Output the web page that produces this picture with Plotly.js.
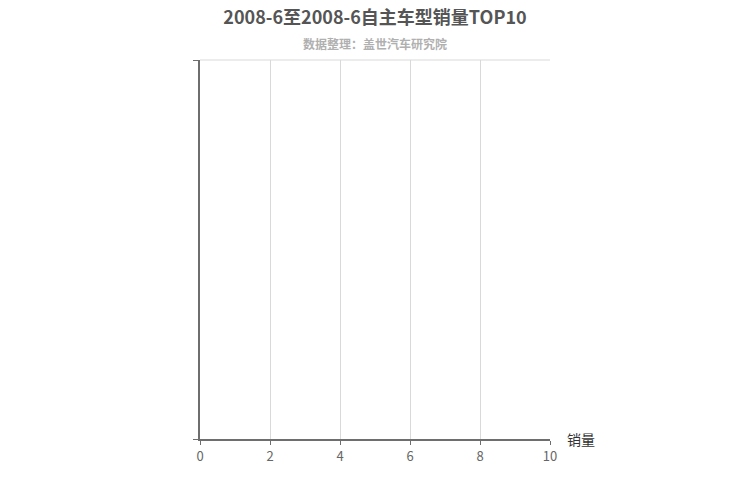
<!DOCTYPE html>
<html>
<head>
<meta charset="utf-8">
<script src="https://cdn.plot.ly/plotly-3.0.1.min.js"></script>
<style>
  body { margin: 0; background: #fff; }
  #chart { width: 750px; height: 500px; }
</style>
</head>
<body>
<div id="chart"></div>
<script>
// no records for this period, so the chart stays empty
let models = [];
let sales = [];
let xTicks = [0, 2, 4, 6, 8, 10];

let font = '"Noto Sans CJK SC", "Microsoft YaHei", sans-serif';

Plotly.newPlot('chart', [{
    type: 'bar',
    orientation: 'h',
    y: models,
    x: sales,
    marker: {color: '#5470c6'}
}], {
    width: 750,
    height: 500,
    margin: {l: 200, r: 200, t: 60, b: 61},
    paper_bgcolor: '#fff',
    plot_bgcolor: '#fff',
    font: {family: font, color: '#666'},
    showlegend: false,
    title: {
        text: '<b>2008-6至2008-6自主车型销量TOP10</b>',
        font: {size: 18, color: '#555', family: font},
        x: 0.5, xanchor: 'center',
        y: 0.965, yanchor: 'middle'
    },
    xaxis: {
        range: [0, 10],
        tickvals: xTicks,
        ticktext: xTicks.map(String),
        showgrid: true,
        gridcolor: '#d9d9d9',
        gridwidth: 1,
        zeroline: false,
        showline: true,
        linecolor: '#6e6e6e',
        linewidth: 2,
        ticks: 'outside',
        ticklen: 4,
        tickcolor: '#6e6e6e',
        tickfont: {size: 13, color: '#666'},
        fixedrange: true
    },
    yaxis: {
        range: [0, 1],
        tickvals: [0, 1],
        showticklabels: false,
        showgrid: false,
        zeroline: false,
        showline: true,
        linecolor: '#6e6e6e',
        linewidth: 2,
        ticks: 'outside',
        ticklen: 5,
        tickcolor: '#6e6e6e',
        fixedrange: true
    },
    shapes: [{
        type: 'line', xref: 'paper', yref: 'paper',
        x0: 0, x1: 1, y0: 1, y1: 1,
        line: {color: '#d9d9d9', width: 1}
    }],
    annotations: [{
        text: '<b>数据整理：盖世汽车研究院</b>',
        xref: 'paper', yref: 'paper',
        x: 0.5, y: 1, yshift: 17,
        xanchor: 'center', yanchor: 'middle',
        showarrow: false,
        font: {size: 12, color: '#b0b0b0', family: font}
    }, {
        text: '销量',
        xref: 'paper', yref: 'paper',
        x: 1, y: 0, xshift: 15,
        xanchor: 'left', yanchor: 'middle',
        showarrow: false,
        font: {size: 14, color: '#333', family: font}
    }]
}, {displayModeBar: false, staticPlot: true});
</script>
</body>
</html>
